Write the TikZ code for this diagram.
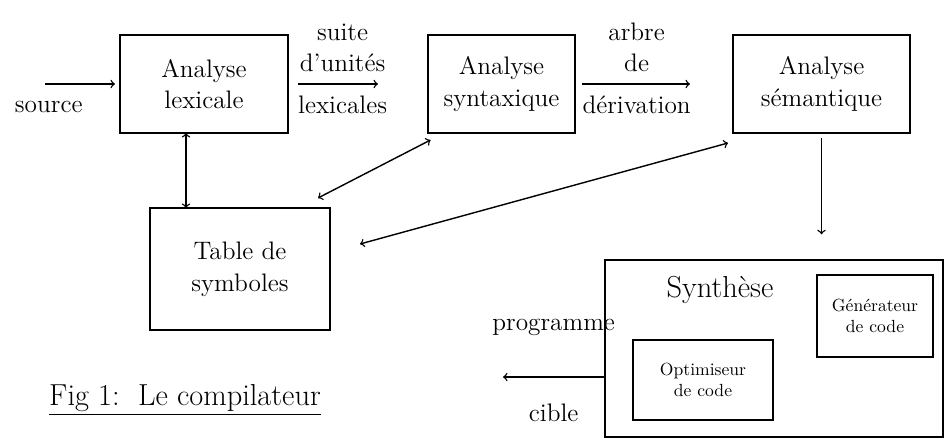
\documentclass[tikz,border=0pt]{standalone}
\usepackage{fontspec}
\usetikzlibrary{calc}
\tikzset{
    phase/.style = {
        draw, thick, rectangle, align=center,
        outer sep=0,
        inner sep=0,
        minimum height={1.96cm},
        font=\Large
    },
    part/.style = {
        draw, thick, rectangle, align=center,
        outer sep=0,
        inner sep=0,
        minimum height={1.6cm},
        font=\normalsize
    },
    txt/.style = {font=\Large, align=center}
}

\begin{document}
\begin{tikzpicture}
\useasboundingbox (0,0) rectangle (18.92,8.88);

% 1. analysis boxes
\node[phase,minimum width=3.36cm] (lex) at (4.08,7.2)  {Analyse\\ lexicale};
\node[phase,minimum width=2.94cm] (syn) at (10.03,7.2) {Analyse\\ syntaxique};
\node[phase,minimum width=3.54cm] (sem) at (16.43,7.2) {Analyse\\ sémantique};
\node[phase,minimum width=3.6cm,minimum height=2.44cm] (table) at (4.8,3.5) {Table de\\ symboles};

% 2. synthesis block -- boxes inside
\node[draw,thick,minimum width=6.76cm,minimum height=3.54cm,inner sep=0] (synth) at (15.48,1.91) {};
\node[txt,font=\LARGE] (synthlbl) at (14.4,3.08) {Synthèse};
\node[part,minimum width=2.32cm,minimum height=1.64cm] (gen) at (17.5,2.56) {Générateur\\ de code};
\node[part,minimum width=2.8cm] (opt) at (14.06,1.28) {Optimiseur\\ de code};

% 3. arrows and labels
\coordinate (src) at (0.9,7.2);
\coordinate (out) at (10.06,1.34);
\draw [-to,thick,shorten >=0.1cm] (src) -- (lex.west)
  node[txt,below=6pt,pos=0.05] (srclbl) {source};
\draw [-to,thick,shorten <=0.2cm,shorten >=1cm] (lex) -- (syn)
  node[txt,pos=0.39,above=3pt] (u1) {suite\\ d'unités}
  node[txt,pos=0.39,below=3pt] (u2) {lexicales};
\draw [-to,thick,shorten <=0.14cm,shorten >=0.86cm] (syn) -- (sem)
  node[txt,pos=0.39,above=3pt] (d1) {arbre\\ de}
  node[txt,pos=0.39,below=3pt] (d2) {dérivation};
\draw [to-to,thick] ([xshift=-3.6mm]lex.south) -- ([xshift=-3.6mm]lex.south |- table.north);
\draw [to-to,thick] ([shift={(0.05,-0.14)}]syn.south west) -- ([shift={(-0.24,0.2)}]table.north east);
\draw [to-to,thick] ([shift={(-0.1,-0.2)}]sem.south west) -- ([shift={(0.6,0.5)}]table.east);
\draw [-to,thick,shorten <=0.1cm,shorten >=0.5cm] (sem.south) -- (sem.south |- synth.north);
\draw [-to,thick] (out -| synth.west) -- (out)
  node[txt,midway,above=7mm] (prog) {programme}
  node[txt,midway,below=4mm] (cible) {cible};

% 4. caption
\node[txt,font=\LARGE] (caption) at (3.7,0.88) {\underline{Fig 1:\ \ Le compilateur}};

\end{tikzpicture}
\end{document}
